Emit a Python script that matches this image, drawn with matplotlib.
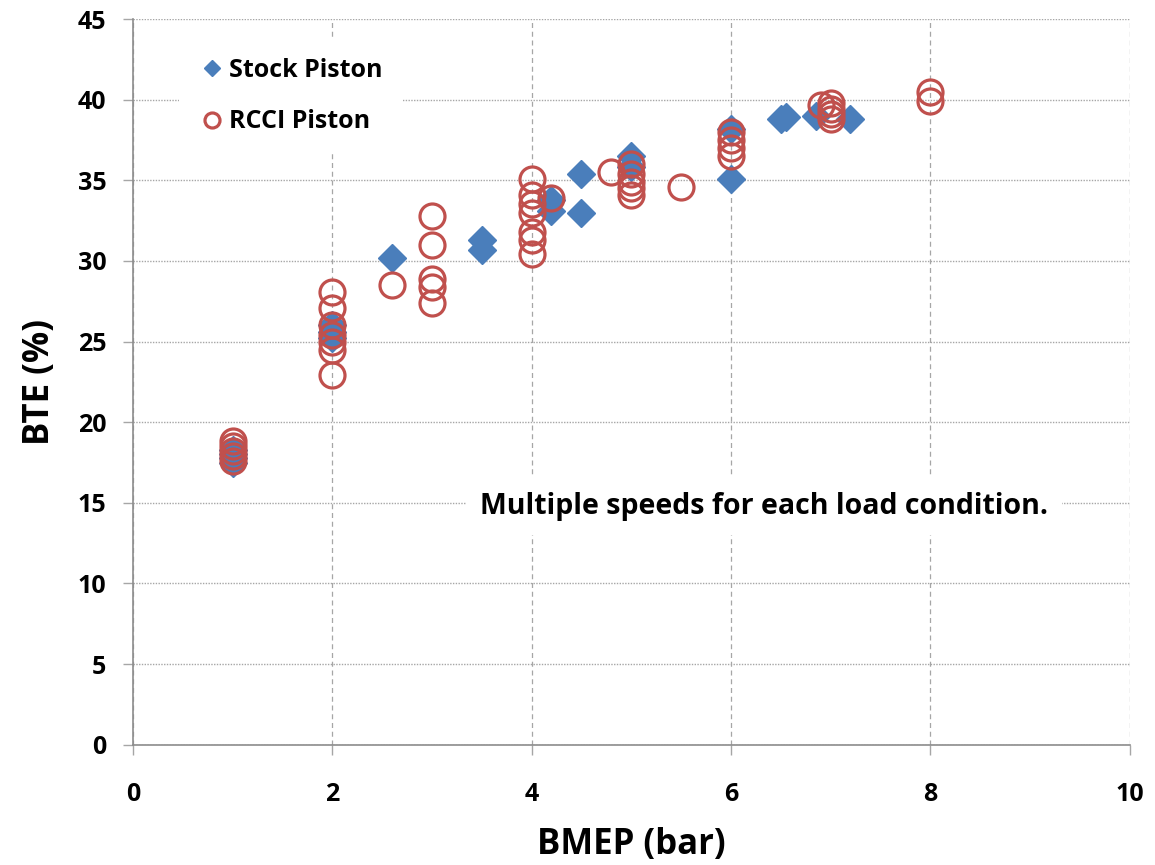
import matplotlib
matplotlib.use("Agg")
import matplotlib.pyplot as plt

# BTE vs BMEP, several engine speeds at each load point
stock_bmep = [1, 1, 1, 1, 2, 2, 2, 2.6, 3.5, 3.5, 4.2, 4.2, 4.5, 4.5,
              5, 5, 6, 6, 6.5, 6.55, 6.85, 7.2]
stock_bte = [17.5, 17.8, 18.0, 18.3, 25.2, 25.6, 26.0, 30.2, 31.3, 30.7, 33.8, 33.1, 35.4, 33.0,
             36.5, 35.8, 38.2, 35.1, 38.8, 38.9, 39.0, 38.8]

rcci_bmep = [1, 1, 1, 1, 1,
             2, 2, 2, 2, 2, 2, 2,
             2.6,
             3, 3, 3, 3, 3,
             4, 4, 4, 4, 4, 4, 4,
             4.2, 4.8,
             5, 5, 5, 5, 5,
             5.5,
             6, 6, 6, 6,
             6.9, 7, 7, 7, 7,
             8, 8]
rcci_bte = [17.6, 17.9, 18.2, 18.5, 18.85,
            28.1, 27.1, 26.0, 25.4, 25.0, 24.5, 22.9,
            28.5,
            32.8, 31.0, 28.9, 28.4, 27.4,
            35.1, 34.1, 33.5, 33.0, 31.8, 31.3, 30.4,
            33.9, 35.5,
            36.0, 35.4, 34.9, 34.5, 34.1,
            34.6,
            38.0, 37.5, 37.0, 36.5,
            39.7, 39.8, 39.4, 39.1, 38.8,
            40.5, 39.9]

plt.rcParams['font.family'] = ['Open Sans', 'DejaVu Sans']
plt.rcParams['font.weight'] = 'bold'

blue = '#4A7EBB'
red = '#C0504D'
grey = '#A6A6A6'

fig = plt.figure(figsize=(11.55, 8.65), dpi=100)
ax = fig.add_axes([0.115, 0.139, 0.863, 0.839])

ax.plot(stock_bmep, stock_bte, linestyle='none', marker='D', markersize=14,
        color=blue, markeredgecolor=blue, label='Stock Piston', zorder=3)
ax.plot(rcci_bmep, rcci_bte, linestyle='none', marker='o', markersize=18,
        markerfacecolor='none', markeredgecolor=red, markeredgewidth=2.3,
        label='RCCI Piston', zorder=4)

ax.set_xlim(0, 10)
ax.set_ylim(0, 45)
ax.set_xticks(range(0, 11, 2))
ax.set_yticks(range(0, 46, 5))

ax.grid(axis='y', color=grey, linestyle=(0, (1, 1)), linewidth=1.0)
ax.grid(axis='x', color=grey, linestyle=(0, (4, 3)), linewidth=0.9)
ax.set_axisbelow(True)

for side in ['top', 'right']:
    ax.spines[side].set_visible(False)
for side in ['left', 'bottom']:
    ax.spines[side].set_color('#8C8C8C')
    ax.spines[side].set_linewidth(1.2)

ax.tick_params(axis='both', direction='out', length=7, width=1, color=grey,
               labelsize=18)
ax.tick_params(axis='x', pad=20)
ax.tick_params(axis='y', pad=12)
for lbl in ax.get_xticklabels() + ax.get_yticklabels():
    lbl.set_fontweight('bold')

ax.set_xlabel('BMEP (bar)', fontsize=25, fontweight='bold', labelpad=14)
ax.set_ylabel('BTE (%)', fontsize=25, fontweight='bold', labelpad=14)

leg = ax.legend(loc='upper left', bbox_to_anchor=(0.034, 0.991), fontsize=18,
                frameon=True, handlelength=1.0, handletextpad=0.2,
                labelspacing=1.05, borderpad=0.8, markerscale=0.6)
leg.get_frame().set_edgecolor('none')
leg.get_frame().set_facecolor('white')
leg.get_frame().set_alpha(1)
for t in leg.get_texts():
    t.set_fontweight('bold')

ax.text(6.33, 14.75, 'Multiple speeds for each load condition.', fontsize=20.5,
        fontweight='bold', ha='center', va='center', zorder=5,
        bbox=dict(facecolor='white', edgecolor='none', pad=10))

fig.savefig('out.png', dpi=100)
